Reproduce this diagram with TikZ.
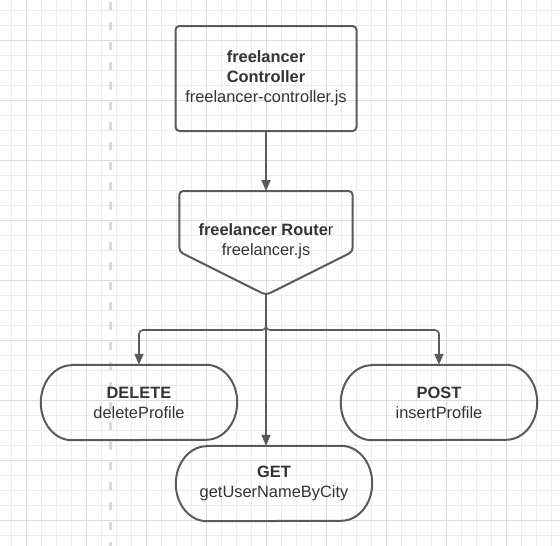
\documentclass[tikz,border=0pt]{standalone}
\usepackage{fontspec}
\setmainfont{Liberation Sans}
\usepackage{tikz}
\usetikzlibrary{arrows.meta}
\definecolor{EdgeGray}{HTML}{5A5A5A}
\definecolor{InkGray}{HTML}{333333}
\definecolor{GridMinor}{HTML}{EDEDED}
\definecolor{GridMajor}{HTML}{DCDCDC}
\newcommand{\capsule}[1]{%
  \draw[outline] ([xshift=31pt]#1.north west) -- ([xshift=-31pt]#1.north east)
    arc[start angle=90, end angle=-90, x radius=31pt, y radius=37.5pt]
    -- ([xshift=31pt]#1.south west)
    arc[start angle=270, end angle=90, x radius=31pt, y radius=37.5pt] -- cycle;}

\begin{document}
\begin{tikzpicture}[
  x=1pt, y=-1pt,
  font=\fontsize{16.4}{20}\selectfont,
  outline/.style={draw=EdgeGray, line width=2pt},
  lbl/.style={text=InkGray, align=center, inner sep=0pt},
  ctrlbox/.style={lbl, outline, rounded corners=4pt, minimum width=181pt, minimum height=105pt},
  verb/.style={lbl, minimum width=196pt, minimum height=75pt},
  arr/.style={-{Triangle[length=11pt, width=9pt]}, draw=EdgeGray, line width=1.6pt}
]
\useasboundingbox (0,0) rectangle (560,546);
\fill[white] (0,0) rectangle (560,546);
% grid
\foreach \k in {0,...,36} \draw[GridMinor, line width=1pt] ({11.7+15*\k},0) -- ({11.7+15*\k},546);
\foreach \k in {0,...,35} \draw[GridMinor, line width=1pt] (0,{10+15*\k}) -- (560,{10+15*\k});
\foreach \k in {0,...,8} \draw[GridMajor, line width=1pt] ({26.7+60*\k},0) -- ({26.7+60*\k},546);
\foreach \k in {0,...,8} \draw[GridMajor, line width=1pt] (0,{40+60*\k}) -- (560,{40+60*\k});
\draw[black!15, line width=3pt, dash pattern=on 8pt off 12pt] (110,2) -- (110,546);

\node[ctrlbox] (ctrl) at (266,78.5) {\textbf{freelancer}\\\textbf{Controller}\\freelancer-controller.js};

\node[lbl] (router) at (266,241.7) {\textbf{freelancer Route}r\\freelancer.js};
\coordinate (rtop) at (266,191);
\coordinate (rtip) at (266,295);
\draw[outline, rounded corners=4pt] (179.3,191) -- (352.7,191) -- (352.7,251.7) -- (rtip) -- (179.3,251.7) -- cycle;

\node[verb] (delete) at (139,402.5) {\textbf{DELETE}\\deleteProfile};
\node[verb] (post) at (439,402.5) {\textbf{POST}\\insertProfile};
\node[verb] (get) at (274,483.5) {\textbf{GET}\\getUserNameByCity};
\capsule{delete}
\capsule{post}
\capsule{get}

\draw[arr] (ctrl.south) -- (rtop);
\draw[arr] (rtip) -- (rtip |- get.north);
\draw[arr, rounded corners=4pt] (rtip) -- ++(0,35) -| (delete.north);
\draw[arr, rounded corners=4pt] (rtip) -- ++(0,35) -| (post.north);
\end{tikzpicture}
\end{document}
